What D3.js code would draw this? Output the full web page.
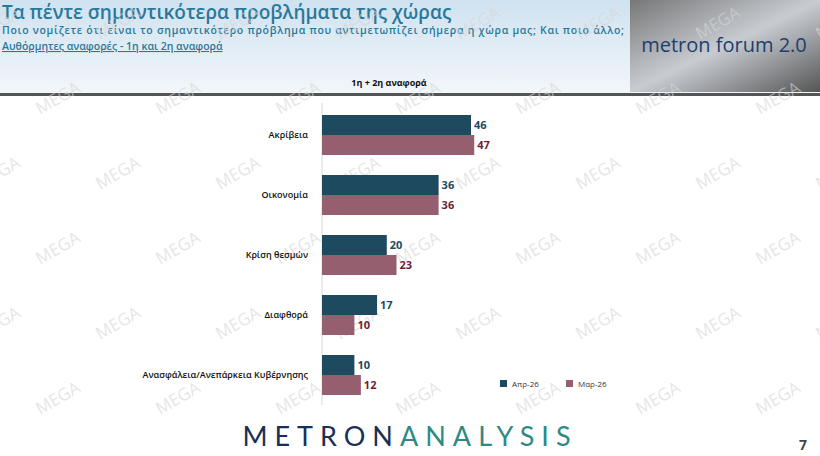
<!DOCTYPE html><html><head><meta charset="utf-8"><script src="https://cdn.jsdelivr.net/npm/d3@7"></script>
<style>body{margin:0}svg{font-family:"Open Sans",sans-serif}</style></head><body><svg id="c" width="820" height="456"></svg>
<script>
const categories=["Ακρίβεια","Οικονομία","Κρίση θεσμών","Διαφθορά","Ανασφάλεια/Ανεπάρκεια Κυβέρνησης"];
const apr=[46,36,20,17,10];
const mar=[47,36,23,10,12];
const seriesNames=["Απρ-26","Μαρ-26"];
const colors=["#1d4a5e","#955f70"];
const labelColors=["#1d4a5e","#6e1f3a"];
const svg=d3.select("#c");
const defs=svg.append("defs");
const g1=defs.append("linearGradient").attr("id","hg").attr("x1",0).attr("y1",0).attr("x2",0).attr("y2",1);
g1.append("stop").attr("offset",0).attr("stop-color","#cfe2f0");
g1.append("stop").attr("offset",1).attr("stop-color","#f3f7fa");
svg.append("rect").attr("width",820).attr("height",456).attr("fill","#fff");
svg.append("rect").attr("width",820).attr("height",94).attr("fill","url(#hg)");
svg.append("rect").attr("y",93).attr("width",820).attr("height",3).attr("fill","#555");
const ig=defs.append("linearGradient").attr("id","ig").attr("x1",0).attr("y1",0).attr("x2",1).attr("y2",1);
ig.append("stop").attr("offset",0).attr("stop-color","#777");
ig.append("stop").attr("offset",0.5).attr("stop-color","#c8ccd2");
ig.append("stop").attr("offset",1).attr("stop-color","#555");
svg.append("rect").attr("x",630).attr("y",0).attr("width",190).attr("height",92).attr("fill","url(#ig)");
svg.append("text").attr("x",724).attr("y",52).attr("text-anchor","middle").attr("font-size",20).attr("fill","#1d3f6e").text("metron forum 2.0");
svg.append("text").attr("x",2).attr("y",19).attr("font-size",19).attr("font-weight",600).attr("fill","#2a7899").text("Τα πέντε σημαντικότερα προβλήματα της χώρας");
svg.append("text").attr("x",2).attr("y",34).attr("font-size",10.5).attr("font-weight",600).attr("fill","#2a7899").attr("textLength",622).text("Ποιο νομίζετε ότι είναι το σημαντικότερο πρόβλημα που αντιμετωπίζει σήμερα η χώρα μας; Και ποιο άλλο;");
svg.append("text").attr("x",2).attr("y",50).attr("font-size",10.5).attr("font-weight",600).attr("fill","#2a7899").attr("text-decoration","underline").text("Αυθόρμητες αναφορές - 1η και 2η αναφορά");
svg.append("text").attr("x",389).attr("y",86).attr("text-anchor","middle").attr("font-size",9).attr("font-weight","bold").attr("fill","#111").text("1η + 2η αναφορά");
const wm=svg.append("g");
for(let r=0;r<6;r++)for(let c=0;c<8;c++){
 const x=c*120+(r%2)*60-20,y=r*75+40;
 wm.append("text").attr("transform",`translate(${x},${y}) rotate(-30)`).attr("font-size",17).attr("fill","#d6d6d6").attr("opacity",0.6).text("MEGA");
}
const x=d3.scaleLinear().domain([0,46]).range([322,471]);
const y=d3.scaleBand().domain(categories).range([105,405]);
const inner=d3.scaleBand().domain([0,1]).range([10,50]);
svg.append("line").attr("x1",322).attr("x2",322).attr("y1",103).attr("y2",405).attr("stroke","#d9d9d9");
svg.append("g").attr("transform","translate(322,0)").call(d3.axisLeft(y).tickSize(0).tickPadding(14))
 .call(a=>a.select(".domain").remove()).selectAll("text").attr("font-size",9).attr("font-weight",600).attr("fill","#111").attr("font-family","Open Sans");
[apr,mar].forEach((vals,s)=>{
 const g=svg.append("g");
 g.selectAll("rect").data(vals).join("rect").attr("x",x(0)).attr("y",(d,i)=>y(categories[i])+inner(s)).attr("height",inner.bandwidth()).attr("width",d=>x(d)-x(0)).attr("fill",colors[s]);
 g.selectAll("text").data(vals).join("text").attr("x",d=>x(d)+3).attr("y",(d,i)=>y(categories[i])+inner(s)+inner.bandwidth()/2+4).attr("font-size",11).attr("font-weight","bold").attr("fill",labelColors[s]).text(d=>d);
});
const lg=svg.append("g");
seriesNames.forEach((n,i)=>{
 lg.append("rect").attr("x",500+i*66).attr("y",380).attr("width",7).attr("height",7).attr("fill",colors[i]);
 lg.append("text").attr("x",512+i*66).attr("y",387).attr("font-size",8).attr("fill","#333").text(n);
});
const f=svg.append("text").attr("x",410).attr("y",446).attr("text-anchor","middle").attr("font-size",27).attr("letter-spacing",7).attr("font-family","Lato");
f.append("tspan").attr("fill","#1a2f55").text("METRON");
f.append("tspan").attr("fill","#2f8a86").text("ANALYSIS");
svg.append("text").attr("x",803).attr("y",450).attr("text-anchor","middle").attr("font-size",14).attr("font-weight","bold").attr("fill","#444").text("7");
</script></body></html>
